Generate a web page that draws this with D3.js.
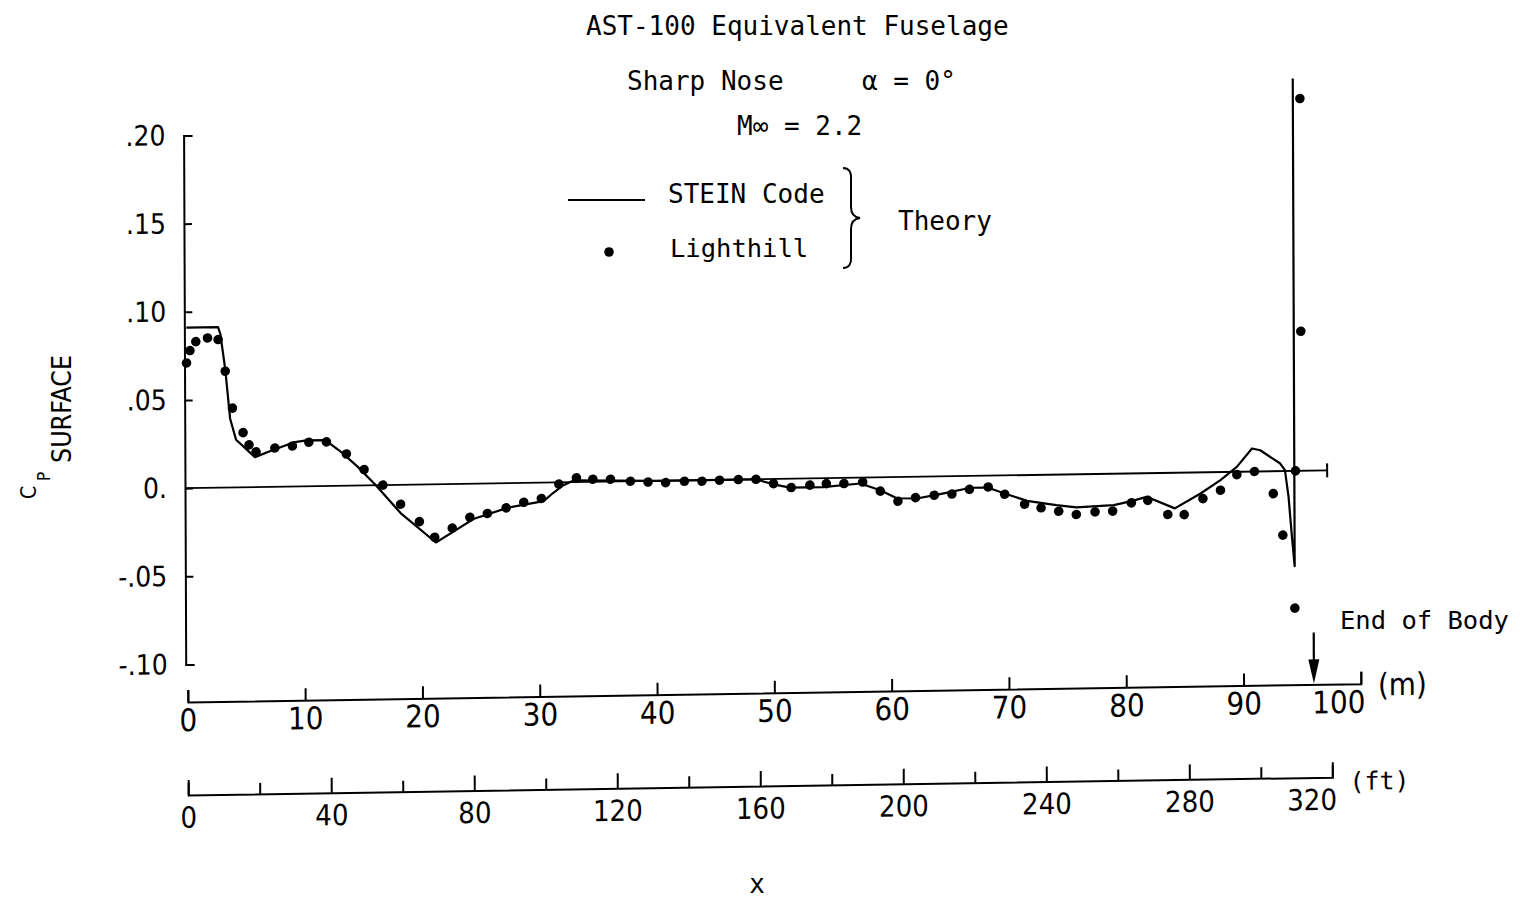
<!DOCTYPE html>
<html><head><meta charset="utf-8">
<script src="https://cdn.jsdelivr.net/npm/d3@7"></script>
<style>
html,body{margin:0;padding:0;background:#fff;}
svg{display:block;}
</style></head><body>
<svg id="chart" width="1520" height="898"></svg>
<script>
// ---- data (x in metres, Cp surface) ----
const steinX = [0, 2.7, 2.9, 3.3, 3.7, 4.2, 5.8, 7.4, 9.1, 10.2, 11.8, 13.0, 14.5, 16.1, 18.2, 21.2, 22.7, 24.4, 27.3, 30.4, 31.2, 32.0, 33.0, 40.0, 48.5, 50.0, 51.4, 54.2, 57.4, 59.1, 60.5, 62.2, 64.2, 66.8, 68.3, 69.7, 71.6, 74.1, 75.8, 79.0, 80.5, 81.8, 84.2, 86.4, 88.1, 89.5, 90.8, 91.5, 93.2, 93.6, 93.9, 94.2, 94.4, 94.4];
const steinCp = [0.091, 0.091, 0.087, 0.067, 0.039, 0.027, 0.017, 0.021, 0.025, 0.026, 0.026, 0.020, 0.011, 0.0, -0.016, -0.033, -0.027, -0.020, -0.014, -0.0105, -0.006, -0.002, 0.001, 0.0, 0.0, -0.003, -0.005, -0.005, -0.0033, -0.0073, -0.012, -0.0123, -0.010, -0.0067, -0.0068, -0.0103, -0.0146, -0.0173, -0.0188, -0.0178, -0.0157, -0.0134, -0.0202, -0.012, -0.0046, 0.0028, 0.0131, 0.012, 0.0043, 0.0005, -0.0147, -0.0393, -0.054, 0.2225];

const lighthillX = [0.0,0.3,0.8,1.8,2.7,3.3,3.9,4.8,5.3,5.9,7.5,9.0,10.4,11.9,13.6,15.1,16.7,18.2,19.8,21.1,22.6,24.1,25.6,27.2,28.7,30.2,31.7,33.2,34.6,36.1,37.8,39.3,40.8,42.4,43.9,45.4,47.0,48.5,50.0,51.5,53.1,54.5,56.0,57.6,59.1,60.6,62.1,63.7,65.2,66.7,68.3,69.7,71.4,72.8,74.3,75.8,77.4,78.9,80.5,81.9,83.6,85.0,86.6,88.1,89.5,91.0,92.6,93.4,94.4,94.5,95.0,95.0];
const lighthillCp = [0.071,0.078,0.083,0.085,0.084,0.066,0.045,0.031,0.024,0.020,0.022,0.023,0.025,0.025,0.018,0.009,0.0,-0.011,-0.021,-0.030,-0.025,-0.019,-0.017,-0.014,-0.011,-0.009,-0.001,0.0024,0.0015,0.0013,0.0,-0.0006,-0.0011,-0.0005,-0.0006,-0.0002,0.0,0.0,-0.0026,-0.005,-0.0038,-0.0031,-0.0032,-0.0025,-0.0078,-0.0137,-0.0118,-0.0106,-0.0101,-0.0076,-0.0064,-0.0107,-0.0165,-0.0187,-0.0208,-0.0228,-0.0215,-0.0212,-0.0167,-0.0154,-0.0236,-0.0238,-0.0149,-0.0103,-0.0016,0.0,-0.0127,-0.0363,-0.0778,0.0,0.0791,0.2111];

const cpTicks = [-0.10, -0.05, 0, 0.05, 0.10, 0.15, 0.20];
const cpTickLabels = ["-.10", "-.05", "0.", ".05", ".10", ".15", ".20"];
const meterTicks = [0, 10, 20, 30, 40, 50, 60, 70, 80, 90, 100];
const feetTicks = [0, 20, 40, 60, 80, 100, 120, 140, 160, 180, 200, 220, 240, 260, 280, 300, 320];
const feetLabelled = [0, 40, 80, 120, 160, 200, 240, 280, 320];
const zeroLineEnd = 97.2;   // m
const endOfBody = 96.0;     // m
const FT_PER_M = 3.2808;

// ---- layout ----
const svg = d3.select("#chart");
const mono = "'DejaVu Sans Mono', monospace";
const narrow = "'Liberation Sans Narrow', 'DejaVu Sans Condensed', 'Liberation Sans', sans-serif";

const x = d3.scaleLinear().domain([0, 100]).range([187, 1360]);
const xft = d3.scaleLinear().domain([0, 100 * FT_PER_M]).range([187, 1360]);
const xft320 = d3.scaleLinear().domain([0, 320]).range([xft(0), xft(320)]);
const y = d3.scaleLinear().domain([-0.10, 0.20]).range([664.5, 135.5]);

const mAxisY = 702, ftAxisY = 795, yAxisX = 185;

// plot group (slight scan skew of the original)
const plot = svg.append("g").attr("transform", "matrix(1,-0.0156,0.004,1,-1.95,2.92)");

// Y axis
const yAxis = plot.append("g").attr("transform", `translate(${yAxisX},0)`)
  .call(d3.axisLeft(y).tickValues(cpTicks).tickFormat((d, i) => cpTickLabels[i])
        .tickSizeInner(-8).tickSizeOuter(-9).tickPadding(18));
yAxis.attr("font-family", narrow).attr("font-size", 28);
yAxis.selectAll("path,line").attr("stroke", "#000").attr("stroke-width", 2);

// zero line
plot.append("line").attr("x1", yAxisX).attr("x2", x(zeroLineEnd))
  .attr("y1", y(0)).attr("y2", y(0)).attr("stroke", "#000").attr("stroke-width", 1.8);
plot.append("line").attr("x1", x(zeroLineEnd)).attr("x2", x(zeroLineEnd))
  .attr("y1", y(0) - 7).attr("y2", y(0) + 7).attr("stroke", "#000").attr("stroke-width", 2);

// STEIN line
const steinData = steinX.map((v, i) => [v, steinCp[i]]);
plot.append("path").datum(steinData)
  .attr("d", d3.line().x(d => x(d[0])).y(d => y(d[1])))
  .attr("fill", "none").attr("stroke", "#000").attr("stroke-width", 2.2).attr("stroke-linejoin", "round");

// Lighthill points
plot.selectAll("circle.lh").data(lighthillX.map((v, i) => [v, lighthillCp[i]]))
  .join("circle").attr("class", "lh")
  .attr("cx", d => x(d[0])).attr("cy", d => y(d[1])).attr("r", 4.8).attr("fill", "#000");

// metre axis
const mAxis = plot.append("g").attr("transform", `translate(0,${mAxisY})`)
  .call(d3.axisBottom(x).tickValues(meterTicks).tickFormat(d3.format("d"))
        .tickSizeInner(-12).tickSizeOuter(-12).tickPadding(7));
mAxis.attr("font-family", narrow).attr("font-size", 31);
mAxis.selectAll("path,line").attr("stroke", "#000").attr("stroke-width", 2);
mAxis.selectAll(".tick text").filter(d => d === 100).attr("text-anchor", "end").attr("dx", 4);
plot.append("text").attr("x", x(100) + 17).attr("y", mAxisY + 12)
  .attr("font-family", narrow).attr("font-size", 31).text("(m)");

// feet axis
const ftAxis = plot.append("g").attr("transform", `translate(0,${ftAxisY})`)
  .call(d3.axisBottom(xft320).tickValues(feetTicks)
        .tickFormat(d => feetLabelled.includes(d) ? String(d) : "")
        .tickSizeInner(-11).tickSizeOuter(-12).tickPadding(12));
ftAxis.attr("font-family", narrow).attr("font-size", 29);
ftAxis.selectAll("path,line").attr("stroke", "#000").attr("stroke-width", 2);
ftAxis.selectAll(".tick line").filter(d => feetLabelled.includes(d)).attr("y2", -15);
ftAxis.selectAll(".tick text").filter(d => d === 320).attr("text-anchor", "end").attr("dx", 4);
plot.append("text").attr("x", xft320(320) + 17).attr("y", ftAxisY + 13)
  .attr("font-family", mono).attr("font-size", 25).text("(ft)");

// end of body arrow
const ax = x(endOfBody);
plot.append("line").attr("x1", ax).attr("x2", ax).attr("y1", mAxisY - 52).attr("y2", mAxisY - 20)
  .attr("stroke", "#000").attr("stroke-width", 2.2);
plot.append("path").attr("d", `M${ax - 5.5},${mAxisY - 25}L${ax + 5.5},${mAxisY - 25}L${ax},${mAxisY - 1}Z`)
  .attr("fill", "#000");

// ---- texts outside plot ----
function txt(xp, yp, s, size, fam, anchor) {
  return svg.append("text").attr("x", xp).attr("y", yp).attr("font-family", fam || mono)
    .attr("font-size", size).attr("text-anchor", anchor || "start").attr("fill", "#000").text(s);
}
txt(586, 35, "AST-100 Equivalent Fuselage", 26);
txt(627, 90, "Sharp Nose", 26);
txt(862, 90, "α = 0°", 26);
txt(737, 135, "M∞ = 2.2", 26);
txt(668, 203, "STEIN Code", 26);
txt(670, 257, "Lighthill", 25.5);
txt(898, 230, "Theory", 26);
txt(1340, 629, "End of Body", 25.5);
txt(757, 893, "x", 26, mono, "middle");

// legend symbols
svg.append("line").attr("x1", 568).attr("x2", 645).attr("y1", 200).attr("y2", 200)
  .attr("stroke", "#000").attr("stroke-width", 2);
svg.append("circle").attr("cx", 609).attr("cy", 252).attr("r", 4.8).attr("fill", "#000");
svg.append("path")
  .attr("d", "M843,168 Q852,168 851,180 L851,207 Q851,217 860,218 Q851,219 851,229 L851,256 Q852,268 843,268")
  .attr("fill", "none").attr("stroke", "#000").attr("stroke-width", 2);

// Y axis title
const yl = svg.append("g").attr("transform", "rotate(-90)").attr("font-family", narrow).attr("fill", "#000");
yl.append("text").attr("x", -499).attr("y", 36).attr("font-size", 21).text("C");
yl.append("text").attr("x", -481).attr("y", 50).attr("font-size", 17).text("P");
yl.append("text").attr("x", -463).attr("y", 71).attr("font-size", 26)
  .attr("textLength", 108).attr("lengthAdjust", "spacingAndGlyphs").text("SURFACE");
</script>
</body></html>
